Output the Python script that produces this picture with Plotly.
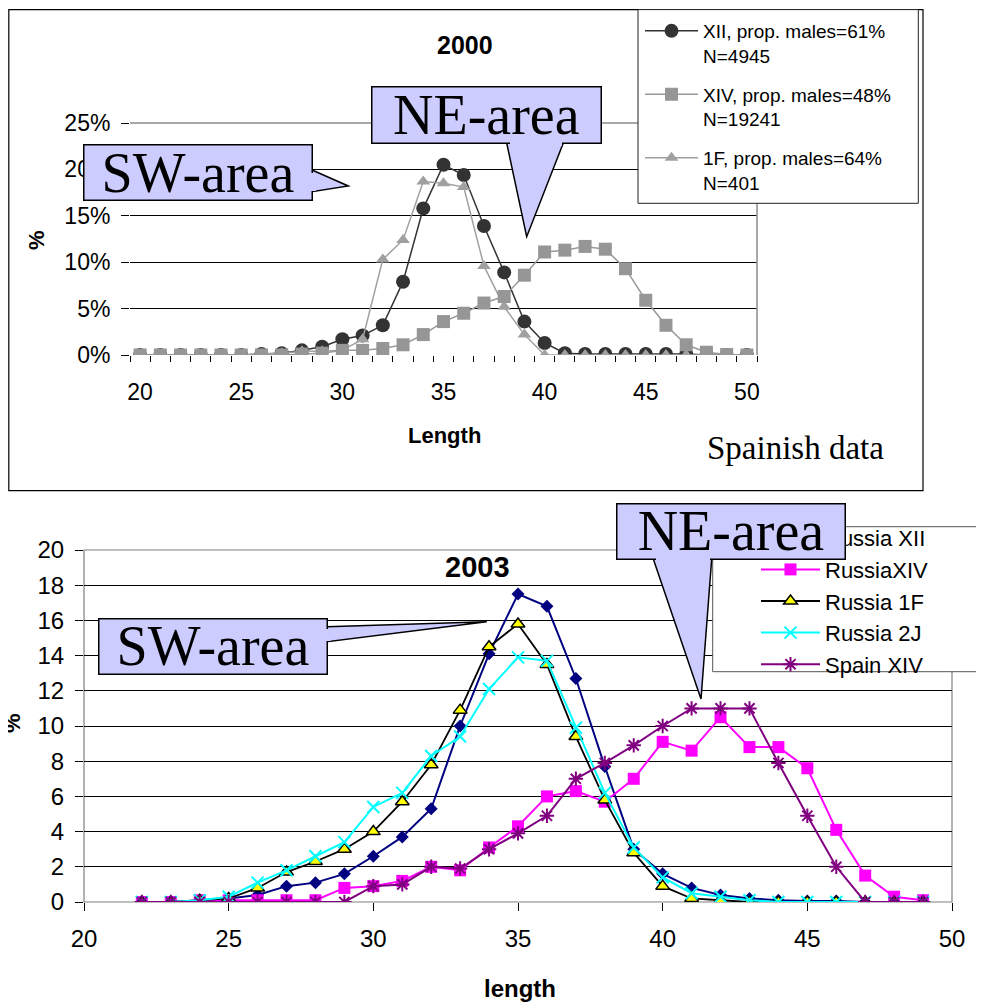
import plotly.graph_objects as go

# ---------------- data ----------------
len_2000 = list(range(20, 51))
xii_2000 = [0, 0, 0, 0, 0, 0, 0.1, 0.2, 0.5, 0.9, 1.7, 2.1, 3.2, 7.9, 15.8, 20.5, 19.4, 13.9, 8.9, 3.6,
            1.3, 0.2, 0.1, 0.1, 0.1, 0.1, 0.1, 0.1, 0, 0, 0]
xiv_2000 = [0, 0, 0, 0, 0, 0, 0, 0, 0.1, 0.2, 0.5, 0.5, 0.7, 1.1, 2.2, 3.6, 4.5, 5.6, 6.3, 8.6,
            11.1, 11.3, 11.7, 11.4, 9.3, 5.9, 3.2, 1.1, 0.3, 0.05, 0]
f1_2000 = [0, 0, 0, 0, 0, 0, 0.1, 0.2, 0.4, 0.4, 0.5, 1.7, 10.3, 12.4, 18.7, 18.5, 18.1, 9.6, 5.2, 2.2,
           0, 0, 0, 0, 0, 0, 0, 0, 0, 0, 0]
names_2000 = ["XII, prop. males=61%<br>N=4945", "XIV, prop. males=48%<br>N=19241",
              "1F, prop. males=64%<br>N=401"]

len_2003 = list(range(22, 50))
russia_xii = [0, 0, 0.05, 0.2, 0.4, 0.9, 1.1, 1.6, 2.6, 3.7, 5.3, 10.0, 14.1, 17.5, 16.8, 12.7, 7.7, 3.0,
              1.6, 0.8, 0.4, 0.2, 0.1, 0.05, 0.05, 0, 0, 0]
russia_xiv = [0, 0, 0.1, 0.1, 0.1, 0.1, 0.1, 0.8, 0.9, 1.2, 2.0, 1.8, 3.1, 4.3, 6.0, 6.3, 5.7, 7.0,
              9.1, 8.6, 10.5, 8.8, 8.8, 7.6, 4.1, 1.5, 0.3, 0.1]
russia_1f = [0, 0, 0.1, 0.2, 0.8, 1.7, 2.3, 3.0, 4.0, 5.7, 7.8, 10.9, 14.5, 15.8, 13.5, 9.4, 5.8, 2.8,
             0.9, 0.2, 0.1, 0, 0, 0, 0, 0, 0, 0]
russia_2j = [0, 0, 0.1, 0.3, 1.1, 1.8, 2.6, 3.4, 5.4, 6.2, 8.3, 9.4, 12.1, 13.9, 13.7, 9.9, 6.2, 3.1,
             1.4, 0.5, 0.3, 0.1, 0, 0, 0, 0, 0, 0]
spain_xiv = [0, 0, 0, 0, 0, 0, 0, 0, 0.9, 1.0, 2.0, 1.9, 3.0, 3.9, 4.9, 7.0, 7.9, 8.9, 10.0, 11.0,
             11.0, 11.0, 7.9, 4.9, 2.0, 0, 0, 0]
names_2003 = ["Russia XII", "RussiaXIV", "Russia 1F", "Russia 2J", "Spain XIV"]

x_ticks_2000 = [20, 25, 30, 35, 40, 45, 50]
y_ticks_2000 = [0, 5, 10, 15, 20, 25]
y_labels_2000 = ["0%", "5%", "10%", "15%", "20%", "25%"]

# ---------------- helpers ----------------
OFF = 8                     # the page body adds an 8px margin
W, H = 984 - OFF, 1003 - OFF
ARIAL = "Arial, Liberation Sans, sans-serif"
TIMES = "Times New Roman, Liberation Serif, serif"
LAV = "#CCCCFF"


def fx(p):
    return (p - OFF) / W


def fy(p):
    return 1 - (p - OFF) / H


fig = go.Figure()

# ---- 2000 panel ----
fig.add_trace(go.Scatter(x=len_2000, y=xii_2000, name=names_2000[0], mode="lines+markers",
                         line=dict(color="#333333", width=1.5),
                         marker=dict(symbol="circle", size=14, color="#333333"),
                         xaxis="x", yaxis="y", legend="legend", legendgroup="a", zorder=0))
fig.add_trace(go.Scatter(x=len_2000, y=xiv_2000, name=names_2000[1], mode="lines+markers",
                         line=dict(color="#999999", width=1.5),
                         marker=dict(symbol="square", size=13, color="#969696"),
                         xaxis="x", yaxis="y", legend="legend", legendgroup="b", zorder=2))
fig.add_trace(go.Scatter(x=len_2000, y=f1_2000, name=names_2000[2], mode="lines+markers",
                         line=dict(color="#a0a0a0", width=1.5),
                         marker=dict(symbol="triangle-up", size=12, color="#a0a0a0"),
                         xaxis="x", yaxis="y", legend="legend", legendgroup="c", zorder=1))

# ---- 2003 panel ----
styles = [
    dict(line=dict(color="#000080", width=2), marker=dict(symbol="diamond", size=10, color="#000080")),
    dict(line=dict(color="#ff00ff", width=2), marker=dict(symbol="square", size=12, color="#ff00ff")),
    dict(line=dict(color="black", width=1.8),
         marker=dict(symbol="triangle-up", size=12, color="#ffff00", line=dict(color="black", width=1.5))),
    dict(line=dict(color="#00ffff", width=2),
         marker=dict(symbol="x-thin-open", size=12, color="#00ffff", line=dict(color="#00ffff", width=2))),
    dict(line=dict(color="#800080", width=2),
         marker=dict(symbol="asterisk-open", size=12, color="#800080", line=dict(color="#800080", width=2))),
]
for name, vals, st in zip(names_2003, [russia_xii, russia_xiv, russia_1f, russia_2j, spain_xiv], styles):
    fig.add_trace(go.Scatter(x=len_2003, y=vals, name=name, mode="lines+markers",
                             xaxis="x2", yaxis="y2", legend="legend2", **st))

tickfont_top = dict(family=ARIAL, size=23, color="black")
tickfont_bot = dict(family=ARIAL, size=24, color="black")

fig.update_layout(
    width=W, height=H, margin=dict(l=0, r=0, t=0, b=0, pad=0, autoexpand=False),
    paper_bgcolor="white", plot_bgcolor="white", showlegend=True,
    xaxis=dict(domain=[fx(130), fx(757)], range=[19.5, 50.5], anchor="y", automargin=False,
               tickmode="array", tickvals=x_ticks_2000, ticks="", showgrid=False, zeroline=False,
               showline=True, linecolor="black", linewidth=1, tickfont=tickfont_top,
               ticklabelstandoff=16,
               minor=dict(tickmode="linear", tick0=19.5, dtick=1, ticks="outside", ticklen=6,
                          tickcolor="black", showgrid=False)),
    yaxis=dict(domain=[fy(355), fy(123)], range=[0, 25], anchor="x", automargin=False,
               tickmode="array", tickvals=y_ticks_2000, ticktext=y_labels_2000, ticks="outside",
               ticklen=8, tickcolor="black", showgrid=True, gridcolor="black", gridwidth=1,
               zeroline=False, showline=True, linecolor="black", linewidth=1, tickfont=tickfont_top,
               ticklabelstandoff=6),
    xaxis2=dict(domain=[fx(84), fx(952)], range=[20, 50], anchor="y2", automargin=False,
                tickmode="linear", tick0=20, dtick=5, ticks="outside", ticklen=8, tickcolor="black",
                showgrid=False, zeroline=False, showline=True, linecolor="black", linewidth=1,
                tickfont=tickfont_bot, ticklabelstandoff=7),
    yaxis2=dict(domain=[fy(902), fy(550)], range=[0, 20], anchor="x2", automargin=False,
                tickmode="linear", tick0=0, dtick=2, ticks="outside", ticklen=8, tickcolor="black",
                showgrid=True, gridcolor="black", gridwidth=1, zeroline=False,
                showline=True, linecolor="black", linewidth=1, tickfont=tickfont_bot,
                ticklabelstandoff=6),
    legend=dict(x=fx(640), y=fy(12), xanchor="left", yanchor="top", bgcolor="rgba(0,0,0,0)",
                borderwidth=0, font=dict(family=ARIAL, size=19, color="black"), itemwidth=53,
                tracegroupgap=11, valign="top", traceorder="grouped"),
    legend2=dict(x=fx(756), y=fy(517), xanchor="left", yanchor="top", bgcolor="rgba(0,0,0,0)",
                 borderwidth=0, font=dict(family=ARIAL, size=22, color="black"), itemwidth=59,
                 traceorder="normal"),
)


def path(points):
    s = "M " + " L ".join(f"{fx(a):.5f},{fy(b):.5f}" for a, b in points) + " Z"
    return s


shapes = [
    # outer frame of the 2000 chart
    dict(type="rect", xref="paper", yref="paper", x0=fx(8.8), x1=fx(923), y0=fy(490.7), y1=fy(9.6),
         line=dict(color="black", width=1.2), layer="below"),
    # plot-area border of the 2003 chart (grey)
    dict(type="rect", xref="paper", yref="paper", x0=fx(84), x1=fx(952), y0=fy(902), y1=fy(550),
         line=dict(color="#808080", width=1.2), layer="below"),
    # plot-area top/right border of 2000 chart (grey)
    dict(type="path", xref="paper", yref="paper",
         path=f"M {fx(130):.5f},{fy(123):.5f} L {fx(757):.5f},{fy(123):.5f} L {fx(757):.5f},{fy(355):.5f}",
         line=dict(color="#8c8c8c", width=1.5), layer="above"),
    # legend frames
    dict(type="rect", xref="paper", yref="paper", x0=fx(638), x1=fx(918.3), y0=fy(203.3), y1=fy(9.6),
         fillcolor="white", line=dict(color="#222222", width=1), layer="above"),
    dict(type="rect", xref="paper", yref="paper", x0=fx(712.7), x1=fx(1000), y0=fy(671.7), y1=fy(526.7),
         fillcolor="white", line=dict(color="#555555", width=1), layer="above"),
]
# callout tails
tails = [
    [(312, 170), (348.3, 186), (312, 191.7)],
    [(506.7, 143), (526.7, 236.7), (563.3, 143)],
    [(327, 626.7), (486.7, 621.7), (327, 641.7)],
    [(653.3, 559), (701, 699), (711.7, 559)],
]
for t in tails:
    shapes.append(dict(type="path", xref="paper", yref="paper", path=path(t), fillcolor=LAV,
                       line=dict(color="black", width=1.5), layer="above"))
fig.update_layout(shapes=shapes)

ann = []


def text(t, x, y, size, family=ARIAL, angle=0):
    ann.append(dict(text=t, x=fx(x), y=fy(y), xref="paper", yref="paper", xanchor="center",
                    yanchor="middle", showarrow=False, textangle=angle,
                    font=dict(family=family, size=size, color="black")))


text("<b>2000</b>", 465, 45, 25)
text("<b>2003</b>", 477, 567, 29)
text("<b>Length</b>", 444, 435, 22)
text("<b>length</b>", 520, 988, 24)
text("<b>%</b>", 37, 240, 22, angle=-90)
text("<b>%</b>", 12, 723, 22, angle=-90)
text("Spainish data", 795, 448, 33, family=TIMES)


def callout(t, x0, y0, x1, y1):
    bw = 1.5
    ann.append(dict(text=t, x=fx(x0), y=fy(y0), xref="paper", yref="paper", xanchor="left",
                    yanchor="top", showarrow=False, width=x1 - x0 - 2 * bw, height=y1 - y0 - 2 * bw,
                    bgcolor=LAV, bordercolor="black", borderwidth=bw, borderpad=0,
                    align="center", valign="middle",
                    font=dict(family=TIMES, size=56, color="black")))


def seam(x0, y0, x1, y1):
    # lavender patch hiding the box border where the tail joins the box
    ann.append(dict(text=" ", x=fx(x0), y=fy(y0), xref="paper", yref="paper", xanchor="left",
                    yanchor="top", showarrow=False, width=x1 - x0, height=y1 - y0,
                    bgcolor=LAV, borderwidth=0, borderpad=0, font=dict(size=1)))


callout("SW-area", 83.3, 144, 313.3, 201)
callout("NE-area", 371, 86, 601.7, 144)
callout("SW-area", 98.3, 618.3, 328.3, 675)
callout("NE-area", 615.5, 503.3, 845.5, 560)
seam(310.5, 172.5, 315, 190)
seam(509.5, 141, 561, 145.5)
seam(325.5, 628.5, 330, 640.5)
seam(655.5, 557.5, 709.5, 562)
fig.update_layout(annotations=ann)

fig.write_html("out.html")
